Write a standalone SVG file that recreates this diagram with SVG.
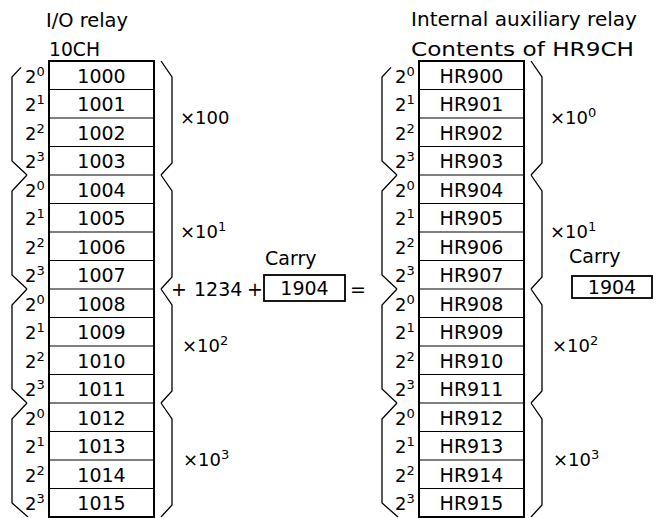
<svg xmlns="http://www.w3.org/2000/svg" width="656" height="518" viewBox="0 0 656 518">
<style>
text{font-family:"DejaVu Sans","Liberation Sans",sans-serif;fill:#000}
.t{font-size:19px}
.c{font-size:19px;text-anchor:middle}
.b{font-size:18px}
.s{font-size:13px}
.m{font-size:19px}
.outer{fill:#fff;stroke:#000;stroke-width:2}
.row{stroke:#000;stroke-width:1.2;fill:none}
.br{fill:none;stroke:#000;stroke-width:1.3;stroke-linejoin:miter}
.box{fill:#fff;stroke:#000;stroke-width:1.8}
</style>
<rect width="656" height="518" fill="#fff"/>

<g id="titles">
<text class="t" x="46" y="27" textLength="82" lengthAdjust="spacingAndGlyphs">I/O relay</text>
<text class="t" x="49" y="56" textLength="51" lengthAdjust="spacingAndGlyphs">10CH</text>
<text class="t" x="411" y="26" textLength="226" lengthAdjust="spacingAndGlyphs">Internal auxiliary relay</text>
<text class="t" x="411" y="56" textLength="223" lengthAdjust="spacingAndGlyphs">Contents of HR9CH</text>
</g>

<g id="io-relay-10CH">
<rect class="outer" x="49" y="61" width="105" height="456"/>
<path class="row" d="M49,89.5H154M49,118H154M49,146.5H154M49,175H154M49,203.5H154M49,232H154M49,260.5H154M49,289H154M49,317.5H154M49,346H154M49,374.5H154M49,403H154M49,431.5H154M49,460H154M49,488.5H154"/>
<g id="cell-1000"><text class="c" x="101.5" y="82.5">1000</text></g>
<g id="cell-1001"><text class="c" x="101.5" y="111">1001</text></g>
<g id="cell-1002"><text class="c" x="101.5" y="139.5">1002</text></g>
<g id="cell-1003"><text class="c" x="101.5" y="168">1003</text></g>
<g id="cell-1004"><text class="c" x="101.5" y="196.5">1004</text></g>
<g id="cell-1005"><text class="c" x="101.5" y="225">1005</text></g>
<g id="cell-1006"><text class="c" x="101.5" y="253.5">1006</text></g>
<g id="cell-1007"><text class="c" x="101.5" y="282">1007</text></g>
<g id="cell-1008"><text class="c" x="101.5" y="310.5">1008</text></g>
<g id="cell-1009"><text class="c" x="101.5" y="339">1009</text></g>
<g id="cell-1010"><text class="c" x="101.5" y="367.5">1010</text></g>
<g id="cell-1011"><text class="c" x="101.5" y="396">1011</text></g>
<g id="cell-1012"><text class="c" x="101.5" y="424.5">1012</text></g>
<g id="cell-1013"><text class="c" x="101.5" y="453">1013</text></g>
<g id="cell-1014"><text class="c" x="101.5" y="481.5">1014</text></g>
<g id="cell-1015"><text class="c" x="101.5" y="510">1015</text></g>
</g>

<g id="io-bits">
<text class="b" x="25" y="82.5">2<tspan class="s" dy="-7">0</tspan></text>
<text class="b" x="25" y="111">2<tspan class="s" dy="-7">1</tspan></text>
<text class="b" x="25" y="139.5">2<tspan class="s" dy="-7">2</tspan></text>
<text class="b" x="25" y="168">2<tspan class="s" dy="-7">3</tspan></text>
<text class="b" x="25" y="196.5">2<tspan class="s" dy="-7">0</tspan></text>
<text class="b" x="25" y="225">2<tspan class="s" dy="-7">1</tspan></text>
<text class="b" x="25" y="253.5">2<tspan class="s" dy="-7">2</tspan></text>
<text class="b" x="25" y="282">2<tspan class="s" dy="-7">3</tspan></text>
<text class="b" x="25" y="310.5">2<tspan class="s" dy="-7">0</tspan></text>
<text class="b" x="25" y="339">2<tspan class="s" dy="-7">1</tspan></text>
<text class="b" x="25" y="367.5">2<tspan class="s" dy="-7">2</tspan></text>
<text class="b" x="25" y="396">2<tspan class="s" dy="-7">3</tspan></text>
<text class="b" x="25" y="424.5">2<tspan class="s" dy="-7">0</tspan></text>
<text class="b" x="25" y="453">2<tspan class="s" dy="-7">1</tspan></text>
<text class="b" x="25" y="481.5">2<tspan class="s" dy="-7">2</tspan></text>
<text class="b" x="25" y="510">2<tspan class="s" dy="-7">3</tspan></text>
</g>

<g id="hr-relay-HR9CH">
<rect class="outer" x="419" y="61" width="105" height="456"/>
<path class="row" d="M419,89.5H524M419,118H524M419,146.5H524M419,175H524M419,203.5H524M419,232H524M419,260.5H524M419,289H524M419,317.5H524M419,346H524M419,374.5H524M419,403H524M419,431.5H524M419,460H524M419,488.5H524"/>
<g id="cell-HR900"><text class="c" x="471.5" y="82.5">HR900</text></g>
<g id="cell-HR901"><text class="c" x="471.5" y="111">HR901</text></g>
<g id="cell-HR902"><text class="c" x="471.5" y="139.5">HR902</text></g>
<g id="cell-HR903"><text class="c" x="471.5" y="168">HR903</text></g>
<g id="cell-HR904"><text class="c" x="471.5" y="196.5">HR904</text></g>
<g id="cell-HR905"><text class="c" x="471.5" y="225">HR905</text></g>
<g id="cell-HR906"><text class="c" x="471.5" y="253.5">HR906</text></g>
<g id="cell-HR907"><text class="c" x="471.5" y="282">HR907</text></g>
<g id="cell-HR908"><text class="c" x="471.5" y="310.5">HR908</text></g>
<g id="cell-HR909"><text class="c" x="471.5" y="339">HR909</text></g>
<g id="cell-HR910"><text class="c" x="471.5" y="367.5">HR910</text></g>
<g id="cell-HR911"><text class="c" x="471.5" y="396">HR911</text></g>
<g id="cell-HR912"><text class="c" x="471.5" y="424.5">HR912</text></g>
<g id="cell-HR913"><text class="c" x="471.5" y="453">HR913</text></g>
<g id="cell-HR914"><text class="c" x="471.5" y="481.5">HR914</text></g>
<g id="cell-HR915"><text class="c" x="471.5" y="510">HR915</text></g>
</g>

<g id="hr-bits">
<text class="b" x="395" y="82.5">2<tspan class="s" dy="-7">0</tspan></text>
<text class="b" x="395" y="111">2<tspan class="s" dy="-7">1</tspan></text>
<text class="b" x="395" y="139.5">2<tspan class="s" dy="-7">2</tspan></text>
<text class="b" x="395" y="168">2<tspan class="s" dy="-7">3</tspan></text>
<text class="b" x="395" y="196.5">2<tspan class="s" dy="-7">0</tspan></text>
<text class="b" x="395" y="225">2<tspan class="s" dy="-7">1</tspan></text>
<text class="b" x="395" y="253.5">2<tspan class="s" dy="-7">2</tspan></text>
<text class="b" x="395" y="282">2<tspan class="s" dy="-7">3</tspan></text>
<text class="b" x="395" y="310.5">2<tspan class="s" dy="-7">0</tspan></text>
<text class="b" x="395" y="339">2<tspan class="s" dy="-7">1</tspan></text>
<text class="b" x="395" y="367.5">2<tspan class="s" dy="-7">2</tspan></text>
<text class="b" x="395" y="396">2<tspan class="s" dy="-7">3</tspan></text>
<text class="b" x="395" y="424.5">2<tspan class="s" dy="-7">0</tspan></text>
<text class="b" x="395" y="453">2<tspan class="s" dy="-7">1</tspan></text>
<text class="b" x="395" y="481.5">2<tspan class="s" dy="-7">2</tspan></text>
<text class="b" x="395" y="510">2<tspan class="s" dy="-7">3</tspan></text>
</g>

<g id="connectors">
<path class="br" d="M21,67.4L12,77V161L27,175M27,175L12,191V275L27,289M27,289L12,305V389L27,403M27,403L12,419V503L28,517"/>
<path class="br" d="M161,61L172,77V163L161,175M161,175L172,191V277L161,289M161,289L172,305V391L161,403M161,403L172,419V505L161,517"/>
<path class="br" d="M391,67.4L382,77V161L397,175M397,175L382,191V275L397,289M397,289L382,305V389L397,403M397,403L382,419V503L398,517"/>
<path class="br" d="M531,61L542,77V163L531,175M531,175L542,191V277L531,289M531,289L542,305V391L531,403M531,403L542,419V505L531,517"/>
</g>

<g id="weights">
<text class="b" x="180" y="124">×100</text>
<text class="b" x="180" y="238">×10<tspan class="s" dy="-7">1</tspan></text>
<text class="b" x="182" y="352">×10<tspan class="s" dy="-7">2</tspan></text>
<text class="b" x="183" y="466">×10<tspan class="s" dy="-7">3</tspan></text>
<text class="b" x="550" y="124">×10<tspan class="s" dy="-7">0</tspan></text>
<text class="b" x="550" y="238">×10<tspan class="s" dy="-7">1</tspan></text>
<text class="b" x="552" y="352">×10<tspan class="s" dy="-7">2</tspan></text>
<text class="b" x="553" y="466">×10<tspan class="s" dy="-7">3</tspan></text>
</g>

<g id="operation">
<text class="m" x="171" y="296">+</text>
<text class="m" x="194" y="296">1234</text>
<text class="m" x="247" y="296">+</text>
<text class="m" x="350" y="296">=</text>
</g>

<g id="carry-in">
<text class="t" x="265" y="265">Carry</text>
<rect class="box" x="264" y="275" width="81" height="26"/>
<text class="c" x="304.5" y="295">1904</text>
</g>

<g id="carry-out">
<text class="t" x="569" y="263">Carry</text>
<rect class="box" x="572" y="276" width="80" height="22"/>
<text class="c" x="612" y="294">1904</text>
</g>
</svg>
